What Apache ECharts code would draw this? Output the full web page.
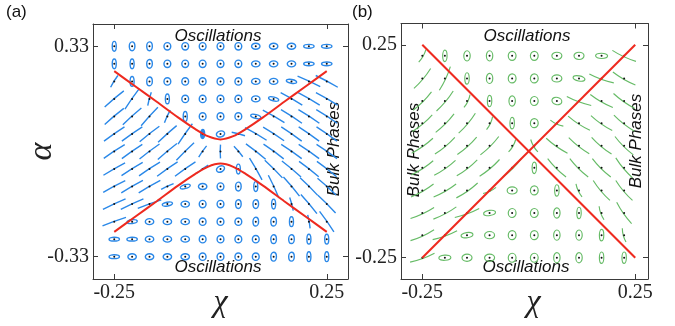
<!DOCTYPE html>
<html>
<head>
<meta charset="utf-8">
<script src="https://cdn.jsdelivr.net/npm/echarts@6/dist/echarts.min.js"></script>
<style>
  html, body { margin: 0; padding: 0; background: #fff; }
  #chart { width: 675px; height: 326px; }
</style>
</head>
<body>
<div id="chart"></div>
<script>
//--------------------Data--------------------
// glyph lattice, panel (a)
let chi_a = [-0.25, -0.208, -0.167, -0.125, -0.083, -0.042, 0, 0.042, 0.083, 0.125, 0.167, 0.208, 0.25];
let alpha_a = [0.33, 0.275, 0.22, 0.165, 0.11, 0.055, 0, -0.055, -0.11, -0.165, -0.22, -0.275, -0.33];
// glyph lattice, panel (b)
let chi_b = [-0.25, -0.197, -0.145, -0.092, -0.039, 0.013, 0.066, 0.118, 0.171, 0.224];
let alpha_b = [0.224, 0.171, 0.118, 0.066, 0.013, -0.039, -0.092, -0.145, -0.197, -0.25];
// one token per cell, rows from the top
// o v V w W F = ellipse kind (optional tilt in deg), number = stroke angle in deg, s = short stroke
let glyph_a = [
    "V v v o o o o o w w w W W",
    "V V v o o o o o w w w W W",
    "58s V v o o o o o w w W-10 -25 -28",
    "40 55 75s V o o o o w W-15 -30 -30 -30",
    "40 42 48 65s V o o o W-15 -30 -33 -33 -33",
    "35 35 38 42 55 F w15 -15s -30 -33 -35 -35 -35",
    "33 35 37 40 45 55s 90s -50s -38 -36 -35 -35 -35",
    "30 32 33 35 35 35s w25 V -60 -45 -40 -38 -38",
    "28 30 30 25s W15 w o v V -65 -50 -45 -42",
    "25 25 20 W10 w o o v v V -75s -50 -45",
    "20 W5 w w w o o o v v V -80s -55",
    "W W w w w o o o o v v V V",
    "W w w w w o o o o v v V V"
];
let glyph_b = [
    "60s V v v o o w w W -25",
    "50 65 V v o o w W-10 -20 -30",
    "45 50 65s V v o w-15 -20 -30 -35",
    "40 45 50 65s V o -25s -33 -35 -38",
    "35 40 42 45 60s -60s -35 -38 -40 -45",
    "33 35 38 40 45 V -45 -45 -45 -50",
    "30 30 35 25s w o V -65s -50 -50",
    "25 28 20 W10 o o v V -70s -55",
    "25 20 W10 w o o v v V -75s",
    "20 W5 w w o o v v V V"
];
// red boundaries
let upper_a = [[-0.25, 0.252], [-0.2, 0.204], [-0.15, 0.156], [-0.1, 0.107], [-0.06, 0.071], [-0.03, 0.048], [0, 0.038],
    [0.03, 0.048], [0.06, 0.071], [0.1, 0.107], [0.15, 0.156], [0.2, 0.204], [0.25, 0.252]];
let lower_a = [[-0.25, -0.252], [-0.2, -0.204], [-0.15, -0.156], [-0.1, -0.107], [-0.06, -0.071], [-0.03, -0.048], [0, -0.038],
    [0.03, -0.048], [0.06, -0.071], [0.1, -0.107], [0.15, -0.156], [0.2, -0.204], [0.25, -0.252]];
let falling_b = [[-0.25, 0.25], [0.25, -0.25]];
let rising_b = [[-0.25, -0.25], [0.25, 0.25]];
// tick labels
let ticks_a_x = [-0.25, 0.25];
let ticks_a_y = [-0.33, 0.33];
let ticks_b_x = [-0.25, 0.25];
let ticks_b_y = [-0.25, 0.25];

//--------------------Style--------------------
let blue = '#2a88e8';
let green = '#66bb66';
let red = '#ee2a1f';
let frame = '#3a3a3a';
let sizes_a = {o: [3.4, 3.7], v: [2.8, 4.4], V: [2, 4.9], w: [4.2, 3], W: [5.2, 1.9], F: [2, 4.5]};
let sizes_b = {o: [3.9, 4.5], v: [3.2, 5.1], V: [2.2, 5.7], w: [5, 3.6], W: [6, 2.6]};

let chart_dom = document.getElementById('chart');
let chart = echarts.init(chart_dom);

function lattice(chis, alphas) {
    let d = [];
    alphas.forEach((a, r) => chis.forEach((c, i) => d.push([c, a, r, i])));
    return d;
}

function glyph_renderer(rows, colour, sizes, len, bow, width) {
    let cells = rows.map(r => r.trim().split(/\s+/));
    return function (params, api) {
        let p = api.coord([api.value(0), api.value(1)]);
        let tok = cells[api.value(2)][api.value(3)];
        let k = tok[0];
        let kids = [];
        if (sizes[k]) {
            let tilt = tok.length > 1 ? parseFloat(tok.slice(1)) : 0;
            let s = sizes[k];
            kids.push({
                type: 'ellipse',
                rotation: tilt * Math.PI / 180,
                shape: {cx: 0, cy: 0, rx: s[0], ry: s[1]},
                style: {fill: k === 'F' ? colour : 'none', stroke: colour, lineWidth: width}
            });
        } else {
            let h = (tok.endsWith('s') ? 0.55 : 1) * len / 2;
            let ang = parseFloat(tok) * Math.PI / 180;
            let dx = h * Math.cos(ang), dy = -h * Math.sin(ang);
            kids.push({
                type: 'bezierCurve',
                shape: {x1: -dx, y1: -dy, x2: dx, y2: dy, cpx1: dy / h * bow, cpy1: -dx / h * bow},
                style: {fill: 'none', stroke: colour, lineWidth: width}
            });
        }
        kids.push({type: 'circle', shape: {cx: 0, cy: 0, r: 1}, style: {fill: '#111'}});
        return {type: 'group', x: p[0], y: p[1], children: kids};
    };
}

function axis(grid, pos, min, max, ticks, labelled, name, extra) {
    let a = {
        type: 'value', gridIndex: grid, position: pos, min: min, max: max,
        axisLine: {show: true, onZero: false, lineStyle: {color: frame, width: 1}},
        axisTick: {show: true, inside: true, length: 5, customValues: ticks, lineStyle: {color: frame}},
        axisLabel: {
            show: labelled, customValues: ticks, margin: 4,
            formatter: v => String(v),
            fontFamily: 'Liberation Serif', fontSize: 20, color: '#222'
        },
        splitLine: {show: false}
    };
    if (name) {
        a.name = name;
        a.nameLocation = 'middle';
        a.nameMoveOverlap = false;
        Object.assign(a, extra);
    }
    return a;
}

let name_style = {fontFamily: 'Liberation Serif', fontStyle: 'italic', fontSize: 32, color: '#222'};

function note(text, x, y, rot) {
    return {
        type: 'text', x: x, y: y, rotation: rot || 0,
        style: {text: text, font: 'italic 17px "Liberation Sans"', fill: '#111', align: 'center', verticalAlign: 'middle'}
    };
}

//--------------------Option--------------------
let option = {
    animation: false,
    backgroundColor: '#fff',
    grid: [
        {left: 93, top: 24, width: 255, height: 255, outerBoundsMode: 'none', containLabel: false},
        {left: 401, top: 23.5, width: 247, height: 255.5, outerBoundsMode: 'none', containLabel: false}
    ],
    xAxis: [
        axis(0, 'bottom', -0.3, 0.3, ticks_a_x, true, 'χ', {nameGap: 8, nameTextStyle: name_style}),
        axis(0, 'top', -0.3, 0.3, ticks_a_x, false),
        axis(1, 'bottom', -0.3, 0.28, ticks_b_x, true, 'χ', {nameGap: 8, nameTextStyle: Object.assign({padding: [0, 0, 0, 18]}, name_style)}),
        axis(1, 'top', -0.3, 0.28, ticks_b_x, false)
    ],
    yAxis: [
        axis(0, 'left', -0.4, 0.4, ticks_a_y, true, 'α', {nameGap: 34, nameRotate: 90, nameTextStyle: Object.assign({}, name_style, {fontSize: 34})}),
        axis(0, 'right', -0.4, 0.4, ticks_a_y, false),
        axis(1, 'left', -0.3, 0.3, ticks_b_y, true),
        axis(1, 'right', -0.3, 0.3, ticks_b_y, false)
    ],
    series: [
        {
            type: 'custom', xAxisIndex: 0, yAxisIndex: 0, clip: false,
            encode: {x: 0, y: 1},
            renderItem: glyph_renderer(glyph_a, blue, sizes_a, 25, 0.6, 1.4),
            data: lattice(chi_a, alpha_a)
        },
        {
            type: 'custom', xAxisIndex: 2, yAxisIndex: 2, clip: false,
            encode: {x: 0, y: 1},
            renderItem: glyph_renderer(glyph_b, green, sizes_b, 26, -1.8, 1.15),
            data: lattice(chi_b, alpha_b)
        },
        {type: 'line', xAxisIndex: 0, yAxisIndex: 0, data: upper_a, smooth: 0.3, symbol: 'none', z: 5, lineStyle: {color: red, width: 2}},
        {type: 'line', xAxisIndex: 0, yAxisIndex: 0, data: lower_a, smooth: 0.3, symbol: 'none', z: 5, lineStyle: {color: red, width: 2}},
        {type: 'line', xAxisIndex: 2, yAxisIndex: 2, data: falling_b, symbol: 'none', z: 5, lineStyle: {color: red, width: 2}},
        {type: 'line', xAxisIndex: 2, yAxisIndex: 2, data: rising_b, symbol: 'none', z: 5, lineStyle: {color: red, width: 2}}
    ],
    graphic: [
        {type: 'text', x: 6, y: 4, style: {text: '(a)', font: '17px "Liberation Sans"', fill: '#111'}},
        {type: 'text', x: 352, y: 4, style: {text: '(b)', font: '17px "Liberation Sans"', fill: '#111'}},
        note('Oscillations', 218, 36),
        note('Oscillations', 218, 267),
        note('Bulk Phases', 334, 149, Math.PI / 2),
        note('Oscillations', 527, 36),
        note('Oscillations', 526, 267),
        note('Bulk Phases', 414, 150, Math.PI / 2),
        note('Bulk Phases', 636, 141, Math.PI / 2)
    ]
};
if (option && typeof option === 'object') {
    chart.setOption(option, true);
}
</script>
</body>
</html>
